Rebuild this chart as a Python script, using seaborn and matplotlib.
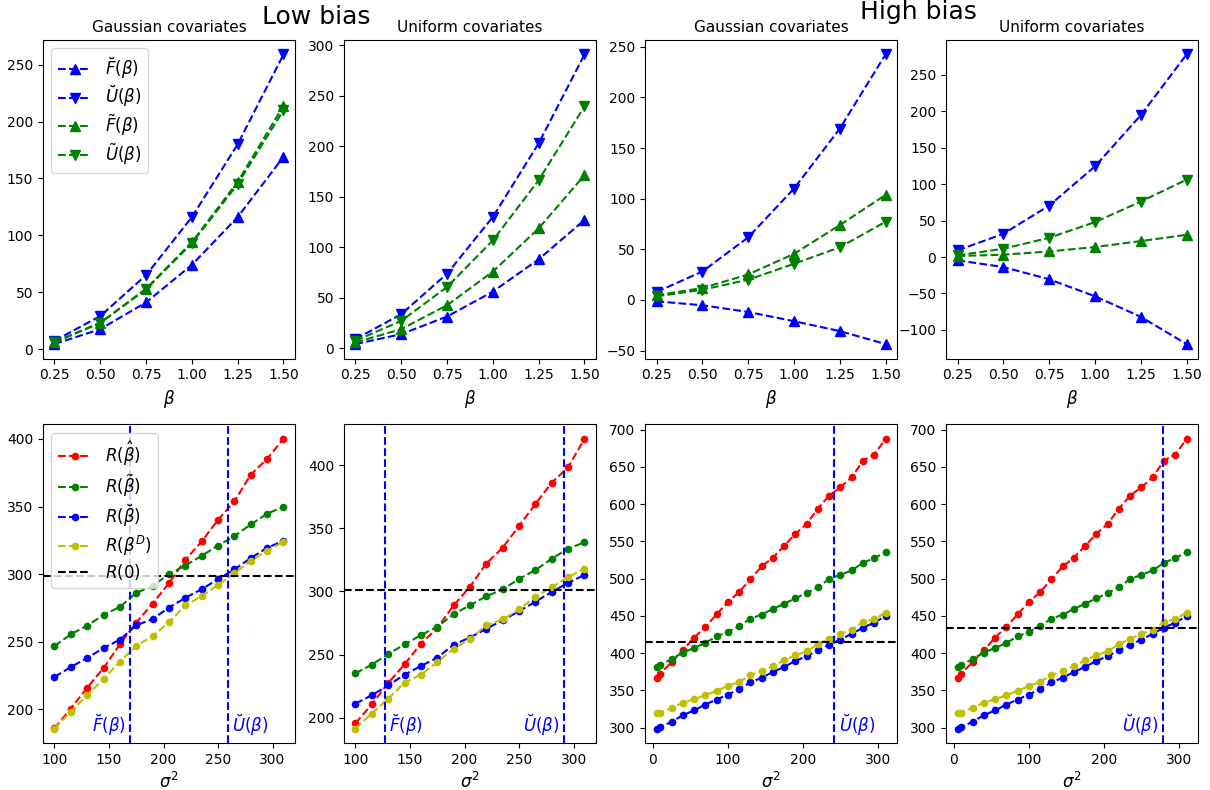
import matplotlib
matplotlib.use("Agg")
import matplotlib.pyplot as plt
import seaborn as sns

# ---------------- data ----------------
beta = [0.25, 0.50, 0.75, 1.00, 1.25, 1.50]

# top row: low bias, Gaussian covariates
lg_F_breve = [4.4, 17.5, 41.0, 74.0, 116.0, 169.0]
lg_U_breve = [7.3, 29.0, 65.0, 116.0, 180.0, 259.0]
lg_F_tilde = [5.8, 23.0, 53.0, 94.0, 147.0, 214.0]
lg_U_tilde = [6.4, 23.0, 52.5, 93.0, 145.0, 210.0]
# top row: low bias, Uniform covariates
lu_F_breve = [4.0, 13.8, 31.3, 56.0, 88.0, 127.0]
lu_U_breve = [8.9, 33.6, 73.8, 130.0, 203.0, 291.0]
lu_F_tilde = [5.6, 18.8, 42.5, 75.8, 118.7, 171.4]
lu_U_tilde = [7.3, 27.0, 60.6, 106.8, 166.4, 239.6]
# top row: high bias, Gaussian covariates
hg_F_breve = [-1.3, -5.2, -11.8, -20.9, -30.7, -43.5]
hg_U_breve = [7.9, 28.1, 61.8, 109.9, 169.1, 242.4]
hg_F_tilde = [4.6, 11.8, 25.2, 45.5, 73.9, 103.7]
hg_U_tilde = [3.6, 10.1, 20.0, 35.7, 52.0, 77.2]
# top row: high bias, Uniform covariates
hu_F_breve = [-4.6, -13.7, -30.5, -53.8, -82.0, -119.4]
hu_U_breve = [9.1, 31.9, 70.6, 124.4, 194.6, 278.0]
hu_F_tilde = [1.4, 3.2, 7.7, 13.7, 21.9, 30.5]
hu_U_tilde = [2.3, 11.4, 26.4, 47.9, 76.1, 106.2]

# bottom row x values
sigma2_low = [100, 115, 130, 145, 160, 175, 190, 205, 220, 235, 250, 265, 280, 295, 310]
sigma2_high = [5, 10, 25, 40, 55, 70, 85, 100, 115, 130, 145, 160, 175, 190, 205,
               220, 235, 250, 265, 280, 295, 310]

# bottom: low bias Gaussian
lg_R_hat = [186.0, 200.7, 216.0, 230.6, 248.1, 264.2, 278.3, 293.3, 310.6, 324.2, 340.2, 353.8, 373.6, 385.2, 400.0]
lg_R_tilde = [246.9, 255.6, 262.0, 269.9, 275.8, 286.2, 291.4, 300.0, 306.4, 313.6, 321.2, 328.1, 336.8, 344.7, 349.9]
lg_R_breve = [224.0, 231.4, 238.0, 245.4, 251.6, 262.2, 266.9, 275.3, 282.5, 288.9, 296.3, 303.5, 311.9, 319.5, 324.7]
lg_R_D = [185.9, 198.3, 210.6, 222.5, 235.3, 246.9, 254.3, 264.4, 277.0, 283.7, 292.1, 300.7, 309.9, 317.3, 324.0]
lg_R0 = 298.5
lg_F_line = 169.5
lg_U_line = 259.0

# bottom: low bias Uniform
lu_R_hat = [195.5, 210.5, 227.4, 242.2, 258.6, 271.0, 288.9, 303.8, 322.2, 334.7, 352.0, 369.4, 386.3, 398.5, 421.0]
lu_R_tilde = [235.1, 242.0, 250.4, 258.0, 265.4, 272.0, 282.0, 289.1, 296.2, 301.6, 310.0, 317.0, 326.0, 334.0, 339.0]
lu_R_breve = [211.1, 217.7, 225.6, 234.0, 240.9, 247.5, 257.8, 263.5, 270.4, 277.2, 284.4, 291.8, 299.7, 306.8, 313.2]
lu_R_D = [191.3, 203.2, 215.0, 227.7, 234.0, 244.0, 254.6, 262.2, 273.2, 277.8, 285.8, 295.7, 303.5, 311.4, 318.1]
lu_R0 = 301.0
lu_F_line = 127.0
lu_U_line = 291.0

# bottom: high bias (same risk curves for both covariate types)
h_R_hat = [367.1, 372.5, 387.7, 403.8, 420.7, 435.0, 452.0, 468.5, 482.0, 499.0, 516.4, 528.0,
           544.0, 560.1, 573.5, 594.1, 611.5, 622.7, 636.1, 658.4, 666.5, 687.5]
h_R_tilde = [381.4, 383.6, 392.1, 400.6, 406.9, 413.6, 422.5, 428.3, 436.4, 446.2, 451.6, 459.2,
             466.3, 473.5, 480.6, 488.6, 499.4, 505.2, 511.0, 521.3, 527.5, 535.6]
h_R_breve = [298.7, 300.5, 307.7, 316.6, 322.9, 330.9, 337.6, 344.3, 351.5, 360.9, 366.7, 374.7,
             381.4, 389.5, 395.8, 403.8, 411.0, 418.0, 426.0, 434.0, 441.0, 449.4]
h_R_D = [318.9, 320.2, 326.5, 333.2, 338.1, 343.4, 349.2, 355.9, 361.3, 370.3, 376.1, 382.3,
         390.3, 397.0, 402.4, 411.8, 419.4, 426.1, 431.5, 441.8, 445.4, 454.3]
hg_R0 = 415.0
hg_U_line = 242.0
hu_R0 = 433.0
hu_U_line = 278.0

# ---------------- drawing ----------------
plt.rcParams['font.family'] = ['DejaVu Sans']
plt.rcParams['mathtext.fontset'] = 'dejavusans'

fig, axes = plt.subplots(2, 4, figsize=(12.1, 7.9), dpi=100)
fig.subplots_adjust(left=43 / 1210, right=1198 / 1210, top=1 - 40 / 790,
                    bottom=1 - 743 / 790, wspace=0.195, hspace=0.207)

top_labels = [r'$\breve{F}(\beta)$', r'$\breve{U}(\beta)$',
              r'$\tilde{F}(\beta)$', r'$\tilde{U}(\beta)$']
bot_labels = [r'$R(\hat{\beta})$', r'$R(\tilde{\beta})$',
              r'$R(\breve{\beta})$', r'$R(\beta^D)$', r'$R(0)$']


def finish_legend(ax, legend, spacing):
    if legend:
        ax.legend(loc='upper left', fontsize=12, labelspacing=spacing,
                  borderaxespad=0.5)
    else:
        lg = ax.get_legend()
        if lg is not None:
            lg.remove()


def draw_top(ax, Fb, Ub, Ft, Ut, title, legend):
    specs = [(Fb, 'b', '^'), (Ub, 'b', 'v'), (Ft, 'g', '^'), (Ut, 'g', 'v')]
    for (y, c, m), lab in zip(specs, top_labels):
        sns.lineplot(x=beta, y=y, ax=ax, color=c, marker=m, linestyle='--',
                     markersize=7, markeredgecolor=c, markeredgewidth=1,
                     label=lab, legend=False)
    ax.set_title(title, fontsize=11)
    ax.set_xlabel(r'$\beta$', fontsize=12)
    ax.set_ylabel('')
    ax.set_xticks(beta)
    finish_legend(ax, legend, 0.2)


def draw_bottom(ax, x, Rh, Rt, Rb, RD, r0, vlines, legend):
    specs = [(Rh, 'r'), (Rt, 'g'), (Rb, 'b'), (RD, 'y')]
    for (y, c), lab in zip(specs, bot_labels[:4]):
        sns.lineplot(x=x, y=y, ax=ax, color=c, marker='o', linestyle='--',
                     markersize=4.5, markeredgecolor=c, markeredgewidth=1,
                     label=lab, legend=False)
    ax.axhline(r0, color='k', linestyle='--', label=bot_labels[4])
    for xv, txt, side in vlines:
        ax.axvline(xv, color='b', linestyle='--')
        off = 3 if side == 'left' else -3
        ax.annotate(txt, xy=(xv, 0.015), xycoords=('data', 'axes fraction'),
                    xytext=(off, 0), textcoords='offset points',
                    ha=side, va='bottom', color='b', fontsize=12)
    ax.set_xlabel(r'$\sigma^2$', fontsize=12)
    ax.set_ylabel('')
    finish_legend(ax, legend, 0.25)


draw_top(axes[0, 0], lg_F_breve, lg_U_breve, lg_F_tilde, lg_U_tilde, 'Gaussian covariates', True)
draw_top(axes[0, 1], lu_F_breve, lu_U_breve, lu_F_tilde, lu_U_tilde, 'Uniform covariates', False)
draw_top(axes[0, 2], hg_F_breve, hg_U_breve, hg_F_tilde, hg_U_tilde, 'Gaussian covariates', False)
draw_top(axes[0, 3], hu_F_breve, hu_U_breve, hu_F_tilde, hu_U_tilde, 'Uniform covariates', False)

draw_bottom(axes[1, 0], sigma2_low, lg_R_hat, lg_R_tilde, lg_R_breve, lg_R_D, lg_R0,
            [(lg_F_line, r'$\breve{F}(\beta)$', 'right'),
             (lg_U_line, r'$\breve{U}(\beta)$', 'left')], True)
draw_bottom(axes[1, 1], sigma2_low, lu_R_hat, lu_R_tilde, lu_R_breve, lu_R_D, lu_R0,
            [(lu_F_line, r'$\breve{F}(\beta)$', 'left'),
             (lu_U_line, r'$\breve{U}(\beta)$', 'right')], False)
draw_bottom(axes[1, 2], sigma2_high, h_R_hat, h_R_tilde, h_R_breve, h_R_D, hg_R0,
            [(hg_U_line, r'$\breve{U}(\beta)$', 'left')], False)
draw_bottom(axes[1, 3], sigma2_high, h_R_hat, h_R_tilde, h_R_breve, h_R_D, hu_R0,
            [(hu_U_line, r'$\breve{U}(\beta)$', 'right')], False)

fig.text(316 / 1210, 1 - 17 / 790, 'Low bias', fontsize=18, ha='center', va='center')
fig.text(918 / 1210, 1 - 12 / 790, 'High bias', fontsize=18, ha='center', va='center')

fig.savefig('out.png', dpi=100)
